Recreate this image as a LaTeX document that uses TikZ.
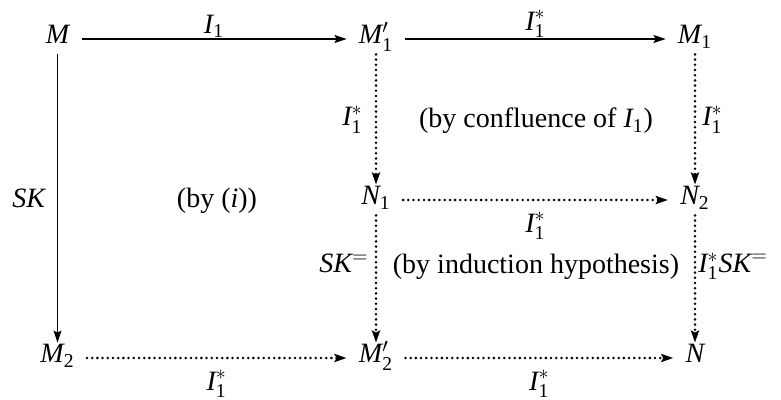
\documentclass[tikz,border=0pt]{standalone}
\usepackage{amsmath}
\usepackage{fontspec}
\setmainfont{Liberation Serif}
\usetikzlibrary{arrows.meta}
\newcommand{\vv}[1]{\text{\itshape #1}}
\newcommand{\one}{\text{1}}
\newcommand{\two}{\text{2}}
\newcommand{\st}{*}
\begin{document}
\begin{tikzpicture}[x=0.5pt,y=-0.5pt,
  font=\fontsize{14}{17}\selectfont,
  obj/.style={inner xsep=6pt, inner ysep=2pt, text height=0.8em, text depth=0.3em},
  tipstyle/.style={-{Stealth[length=6pt,width=4pt,inset=1pt]}},
  solidarr/.style={tipstyle, line width=0.55pt},
  dotarr/.style={tipstyle, line width=1.4pt, line cap=round, dash pattern=on 0pt off 2.6pt},
  lab/.style={inner sep=0.5pt},
  blab/.style={inner sep=5.5pt},
]
\useasboundingbox (0,0) rectangle (781,400);
% objects
\node[obj] (M)   at (57.5,39)  {$\vv{M}$};
\node[obj] (M1p) at (376,39)   {$\vv{M}'_{\one}$};
\node[obj] (M1)  at (695,39)   {$\vv{M}_{\one}$};
\node[obj] (N1)  at (376,200)  {$\vv{N}_{\one}$};
\node[obj] (N2)  at (695,200)  {$\vv{N}_{\two}$};
\node[obj] (M2)  at (57.5,358) {$\vv{M}_{\two}$};
\node[obj] (M2p) at (376,358)  {$\vv{M}'_{\two}$};
\node[obj] (N)   at (695,358)  {$\vv{N}$};
% arrows
\draw[solidarr] (M) -- node[above, lab] {$\vv{I}_{\one}$} (M1p);
\draw[solidarr] (M1p) -- node[above, lab] {$\vv{I}^{\st}_{\one}$} (M1);
\draw[solidarr] (M) -- node[left, inner sep=6pt] {$\vv{SK}$} (M2);
\draw[dotarr] (M1p) -- node[left, inner sep=6pt] {$\vv{I}^{\st}_{\one}$} (N1);
\draw[dotarr] (M1) -- node[right, inner sep=3pt] {$\vv{I}^{\st}_{\one}$} (N2);
\draw[dotarr] (N1) -- node[below, blab] {$\vv{I}^{\st}_{\one}$} (N2);
\draw[dotarr] (N1) -- node[left, pos=0.38, inner sep=3pt] {$\vv{SK}^{=}$} (M2p);
\draw[dotarr] (N2) -- node[right, pos=0.4, inner sep=1pt] {$\vv{I}^{\st}_{\one}\vv{SK}^{=}$} (N);
\draw[dotarr] (M2) -- node[below, blab] {$\vv{I}^{\st}_{\one}$} (M2p);
\draw[dotarr] (M2p) -- node[below, blab] {$\vv{I}^{\st}_{\one}$} (N);
% remarks
\node[anchor=base] (c1) at (536,128) {(by confluence of $\vv{I}_{\one}$)};
\node[anchor=base] (c2) at (217,208) {(by (\textit{i}))};
\node[anchor=base] (c3) at (536,274) {(by induction hypothesis)};
\end{tikzpicture}
\end{document}
